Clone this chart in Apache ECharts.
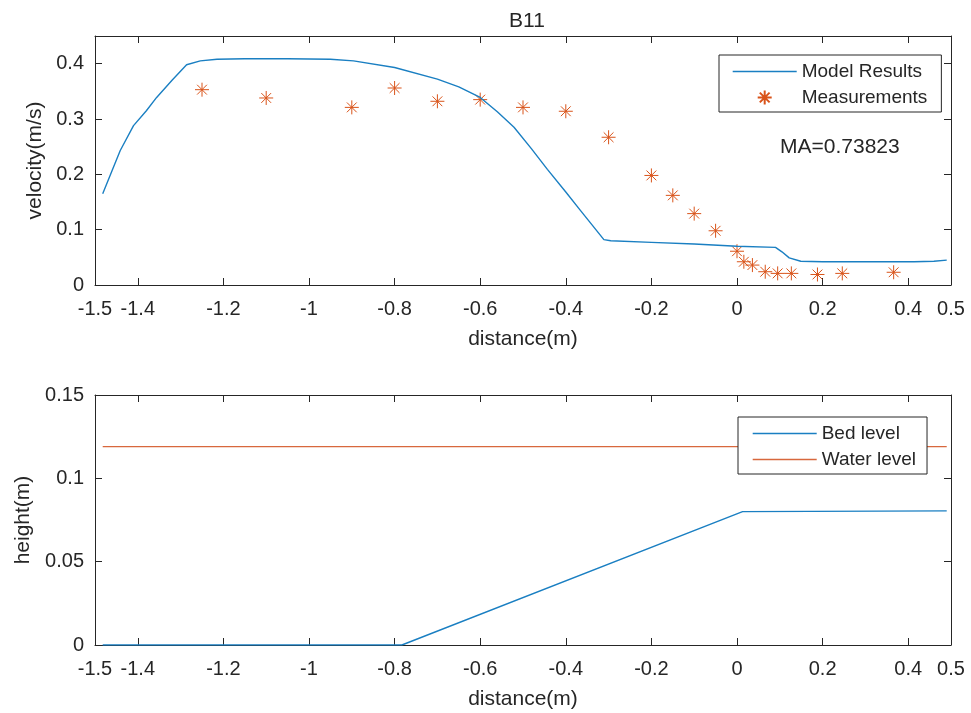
<!DOCTYPE html>
<html>
<head>
<meta charset="utf-8">
<title>B11</title>
<script src="https://cdn.jsdelivr.net/npm/echarts@6/dist/echarts.min.js"></script>
<style>
  html, body { margin: 0; padding: 0; background: #fff; }
  #chart { width: 971px; height: 713px; }
</style>
</head>
<body>
<div id="chart"></div>
<script>
// velocity panel
const modelX = [-1.482, -1.46, -1.441, -1.41, -1.38, -1.356, -1.32, -1.286, -1.254, -1.215, -1.15, -1.05, -0.95, -0.896, -0.8, -0.7, -0.65, -0.6, -0.56, -0.521, -0.48, -0.443, -0.4, -0.365, -0.311, -0.295, -0.2, -0.1, 0.0, 0.09, 0.105, 0.122, 0.149, 0.2, 0.3, 0.414, 0.46, 0.49];
const modelY = [0.165, 0.207, 0.243, 0.288, 0.315, 0.339, 0.37, 0.398, 0.405, 0.408, 0.409, 0.409, 0.408, 0.405, 0.393, 0.372, 0.358, 0.339, 0.313, 0.285, 0.246, 0.209, 0.168, 0.134, 0.082, 0.080, 0.077, 0.074, 0.070, 0.068, 0.060, 0.049, 0.043, 0.042, 0.042, 0.042, 0.043, 0.045];
const measX = [-1.25, -1.1, -0.9, -0.8, -0.7, -0.6, -0.5, -0.4, -0.3, -0.2, -0.15, -0.1, -0.05, 0, 0.016, 0.036, 0.066, 0.095, 0.127, 0.188, 0.246, 0.366];
const measY = [0.353, 0.338, 0.321, 0.356, 0.332, 0.335, 0.321, 0.314, 0.267, 0.198, 0.162, 0.129, 0.098, 0.061, 0.042, 0.036, 0.024, 0.021, 0.021, 0.019, 0.021, 0.023];

// height panel
const bedX = [-1.482, -0.783, 0.013, 0.49];
const bedY = [0, 0, 0.080, 0.0805];
const waterX = [-1.482, 0.49];
const waterY = [0.119, 0.119];

// ticks
const xTicks = [-1.5, -1.4, -1.2, -1, -0.8, -0.6, -0.4, -0.2, 0, 0.2, 0.4, 0.5];
const velTicks = [0, 0.1, 0.2, 0.3, 0.4];
const heightTicks = [0, 0.05, 0.1, 0.15];

const FONT = "'Liberation Sans', Arial, sans-serif";
const INK = '#262626';
const BLUE = '#1a7fc2';
const ORANGE = '#D95319';
const WATER = '#d8683d';
const STAR = 'path://M10,0L10,20M0,10L20,10M3,3L17,17M3,17L17,3';

const zip = (xs, ys) => xs.map((x, i) => [x, ys[i]]);

function xAxisPair(grid, showName) {
  const base = {
    type: 'value', gridIndex: grid, min: -1.5, max: 0.5,
    splitLine: { show: false },
    axisLine: { show: true, onZero: false, lineStyle: { color: INK, width: 1 } },
    axisTick: { show: true, inside: true, length: 7, customValues: xTicks, lineStyle: { color: INK } }
  };
  return [
    Object.assign({}, base, {
      position: 'bottom',
      name: showName ? 'distance(m)' : '',
      nameLocation: 'middle', nameGap: 44,
      nameTextStyle: { fontFamily: FONT, fontSize: 21, color: INK },
      axisLabel: { show: true, customValues: xTicks, margin: 14, fontFamily: FONT, fontSize: 20, color: INK }
    }),
    Object.assign({}, base, { position: 'top', axisLabel: { show: false } })
  ];
}

function yAxisPair(grid, max, ticks, name, gap) {
  const base = {
    type: 'value', gridIndex: grid, min: 0, max: max,
    splitLine: { show: false },
    axisLine: { show: true, onZero: false, lineStyle: { color: INK, width: 1 } },
    axisTick: { show: true, inside: true, length: 7, customValues: ticks, lineStyle: { color: INK } }
  };
  return [
    Object.assign({}, base, {
      position: 'left', name: name, nameLocation: 'middle', nameGap: gap,
      nameTextStyle: { fontFamily: FONT, fontSize: 21, color: INK },
      axisLabel: { show: true, customValues: ticks, margin: 11, fontFamily: FONT, fontSize: 20, color: INK }
    }),
    Object.assign({}, base, { position: 'right', axisLabel: { show: false } })
  ];
}

const legendBase = {
  orient: 'vertical',
  backgroundColor: '#fff',
  borderColor: INK, borderWidth: 1, borderRadius: 0,
  itemWidth: 64, itemHeight: 14, itemGap: 7,
  textStyle: { fontFamily: FONT, fontSize: 19, color: INK },
  selectedMode: false
};

// legend entries for plain lines: hide the marker, keep the line sample
const lineEntry = (name, color) => ({
  name: name,
  itemStyle: { opacity: 0 },
  lineStyle: { color: color, width: 1.4, opacity: 1 }
});

const chart = echarts.init(document.getElementById('chart'));
chart.setOption({
  animation: false,
  backgroundColor: '#fff',
  title: {
    text: 'B11', left: 504, top: 6,
    textStyle: { fontFamily: FONT, fontSize: 21, fontWeight: 'normal', color: INK }
  },
  grid: [
    { left: 95, top: 36, width: 856, height: 249 },
    { left: 95, top: 395, width: 856, height: 250 }
  ],
  xAxis: xAxisPair(0, true).concat(xAxisPair(1, true)),
  yAxis: yAxisPair(0, 0.45, velTicks, 'velocity(m/s)', 49).concat(yAxisPair(1, 0.15, heightTicks, 'height(m)', 60)),
  legend: [
    Object.assign({}, legendBase, {
      left: 719, top: 55, padding: [7, 14, 5, 13],
      data: [lineEntry('Model Results', BLUE), 'Measurements']
    }),
    Object.assign({}, legendBase, {
      left: 738, top: 417, padding: [7, 11, 5, 14],
      data: [lineEntry('Bed level', BLUE), lineEntry('Water level', WATER)]
    })
  ],
  graphic: [{
    type: 'text', left: 780, top: 137,
    style: { text: 'MA=0.73823', fontFamily: FONT, fontSize: 21, fill: INK }
  }],
  series: [
    {
      name: 'Model Results', type: 'line', xAxisIndex: 0, yAxisIndex: 0,
      data: zip(modelX, modelY), symbol: 'none', smooth: false,
      lineStyle: { color: BLUE, width: 1.4 }, itemStyle: { color: BLUE }
    },
    {
      name: 'Measurements', type: 'scatter', xAxisIndex: 0, yAxisIndex: 0,
      data: zip(measX, measY), symbol: STAR, symbolSize: 14, symbolKeepAspect: true,
      itemStyle: { color: ORANGE, borderColor: ORANGE, borderWidth: 1, opacity: 1 }
    },
    {
      name: 'Bed level', type: 'line', xAxisIndex: 2, yAxisIndex: 2,
      data: zip(bedX, bedY), symbol: 'none',
      lineStyle: { color: BLUE, width: 1.4 }, itemStyle: { color: BLUE }
    },
    {
      name: 'Water level', type: 'line', xAxisIndex: 2, yAxisIndex: 2,
      data: zip(waterX, waterY), symbol: 'none',
      lineStyle: { color: WATER, width: 1.3 }, itemStyle: { color: WATER }
    }
  ]
});
</script>
</body>
</html>
